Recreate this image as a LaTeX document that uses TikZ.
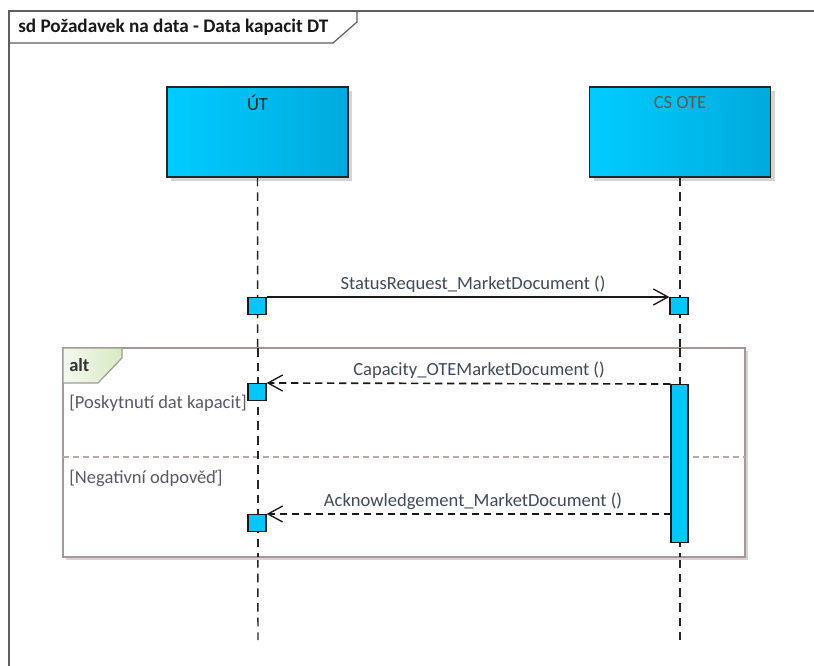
\documentclass[tikz,border=0pt]{standalone}
\usepackage{fontspec}
\setmainfont{Carlito}
\usetikzlibrary{arrows.meta,shadows}
\definecolor{frameline}{HTML}{5E5E5E}
\definecolor{headL}{HTML}{00CCFF}
\definecolor{headR}{HTML}{00AADD}
\definecolor{actfill}{HTML}{00C8FA}
\definecolor{altline}{HTML}{A49898}
\definecolor{altsep}{HTML}{B4AAAA}
\definecolor{tabL}{HTML}{F4FAEE}
\definecolor{tabR}{HTML}{D6EAC4}
\definecolor{msgtext}{HTML}{414A58}
\definecolor{guardtext}{HTML}{5A5A66}
\definecolor{shadowc}{HTML}{D4D4D4}
\tikzset{
  x=0.75pt, y=-0.75pt,
  every node/.style={font=\fontsize{13.9pt}{16pt}\selectfont},
  headbox/.style={draw=black!85, line width=1pt, left color=headL, right color=headR,
     minimum width={181*0.75pt}, minimum height={90*0.75pt}, inner sep=0pt,
     drop shadow={shadow xshift=3pt, shadow yshift=-3pt, fill=shadowc, opacity=1}},
  headtext/.style={anchor=center, inner sep=0pt},
  lifeline/.style={draw=black!85, line width=1.1pt, dash pattern=on 6.5pt off 4.5pt},
  execsq/.style={draw=black!90, line width=0.9pt, fill=actfill, minimum width={18*0.75pt},
     minimum height={17*0.75pt}, inner sep=0pt, anchor=north},
  actbar/.style={draw=black!90, line width=0.9pt, fill=actfill, minimum width={17*0.75pt},
     minimum height={158*0.75pt}, inner sep=0pt, anchor=north},
  syncmsg/.style={draw=black!90, line width=1pt, -{Straight Barb[length=11pt,width=12pt,line width=1pt]}},
  replymsg/.style={draw=black!90, line width=1.25pt, dash pattern=on 5.5pt off 3.5pt,
     -{Straight Barb[length=11pt,width=12pt,line width=1pt]}},
  msglabel/.style={text=msgtext, inner sep=0pt},
  guard/.style={text=guardtext, anchor=west, inner sep=0pt},
}
\begin{document}
\begin{tikzpicture}
\useasboundingbox (0,0) rectangle (814,666);
\fill[white] (0,0) rectangle (814,666);
% outer frame
\draw[frameline, line width=1.5pt] (8,11) -- (814,11);
\draw[frameline, line width=1.5pt] (9,11) -- (9,666);
\draw[frameline, line width=0.9pt] (9,43) -- (333,43) -- (357,22) -- (357,11);
\node[anchor=west, inner sep=0pt, font=\fontsize{14.4pt}{16pt}\selectfont\bfseries, text=black!90] (title) at (18,27) {sd Požadavek na data - Data kapacit DT};
% lifeline heads
\node[headbox] (ut) at (257.5,132) {};
\node[headtext, text=black!85] (utt) at (257.5,103) {ÚT};
\node[headbox] (cs) at (680,132) {};
\node[headtext, text=black!65] (cst) at (680,103) {CS OTE};
\coordinate (utend) at (258,640);
\coordinate (csend) at (680,640);
\draw[lifeline] (ut.south) -- (utend);
\draw[lifeline] (cs.south) -- (csend);
% alt fragment
\fill[shadowc] (66,351) rectangle (748,560);
\draw[altline, line width=1.2pt, fill=white] (63,348) rectangle (745,557);
\draw[altline, line width=0.9pt, left color=tabL, right color=tabR] (63,348) -- (122,348) -- (122,358) -- (98,383) -- (63,383) -- cycle;
\node[anchor=west, inner sep=0pt, font=\fontsize{13.9pt}{16pt}\selectfont\bfseries, text=black!80] (alt) at (69,365) {alt};
\draw[altsep, line width=1pt, dash pattern=on 4.5pt off 3pt] (63,457) -- (745,457);
\node[guard] (g1) at (69,403) {[Poskytnutí dat kapacit]};
\node[guard] (g2) at (69,478) {[Negativní odpověď]};
% redraw lifelines within the fragment
\draw[lifeline] (258,348) -- (258,557);
\draw[lifeline] (680,348) -- (680,557);
% execution squares
\node[execsq] (s1) at (257,297) {};
\node[execsq] (s2) at (679,297) {};
\node[execsq] (s3) at (257,383) {};
\node[execsq] (s4) at (257,514) {};
\node[actbar] (act) at (679.5,384) {};
% messages
\draw[syncmsg] (s1.north east) -- (s2.north west);
\node[msglabel] (l1) at (473,284) {StatusRequest\_MarketDocument ()};
\draw[replymsg] (act.north west) -- (s3.north east);
\node[msglabel] (l2) at (479,370) {Capacity\_OTEMarketDocument ()};
\coordinate (a3) at (671,514);
\draw[replymsg] (a3) -- (s4.north east);
\node[msglabel] (l3) at (473,501) {Acknowledgement\_MarketDocument ()};
\end{tikzpicture}
\end{document}
